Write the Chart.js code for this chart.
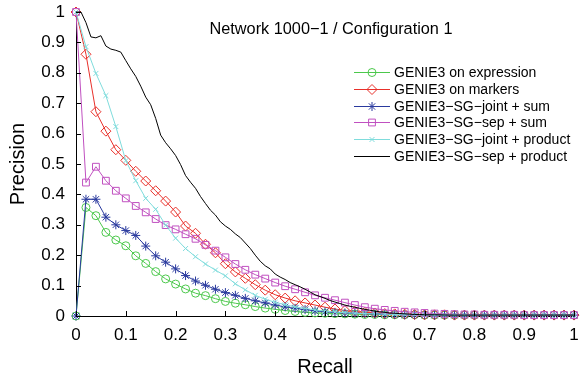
<!DOCTYPE html>
<html>
<head>
<meta charset="utf-8">
<script src="https://cdn.jsdelivr.net/npm/chart.js"></script>
<style>
  html, body { margin: 0; padding: 0; background: #fff; }
  #wrap { width: 580px; height: 379px; position: relative; }
</style>
</head>
<body>
<div id="wrap"><canvas id="c" width="580" height="379"></canvas></div>
<script>
// ---------- DATA ----------
const chartTitle = "Network 1000\u22121 / Configuration 1";
const xAxisTitle = "Recall";
const yAxisTitle = "Precision";

const xTicks = [0, 0.1, 0.2, 0.3, 0.4, 0.5, 0.6, 0.7, 0.8, 0.9, 1];
const xTickLabels = ["0", "0.1", "0.2", "0.3", "0.4", "0.5", "0.6", "0.7", "0.8", "0.9", "1"];
const yTicks = [0, 0.1, 0.2, 0.3, 0.4, 0.5, 0.6, 0.7, 0.8, 0.9, 1];
const yTickLabels = ["0", "0.1", "0.2", "0.3", "0.4", "0.5", "0.6", "0.7", "0.8", "0.9", "1"];

const seriesNames = [
  "GENIE3 on expression",
  "GENIE3 on markers",
  "GENIE3\u2212SG\u2212joint + sum",
  "GENIE3\u2212SG\u2212sep + sum",
  "GENIE3\u2212SG\u2212joint + product",
  "GENIE3\u2212SG\u2212sep + product"
];

// recall grid for marker series (every 0.02)
const recall = [0,0.02,0.04,0.06,0.08,0.1,0.12,0.14,0.16,0.18,0.2,0.22,0.24,0.26,0.28,0.3,0.32,0.34,0.36,0.38,
  0.4,0.42,0.44,0.46,0.48,0.5,0.52,0.54,0.56,0.58,0.6,0.62,0.64,0.66,0.68,0.7,0.72,0.74,0.76,0.78,
  0.8,0.82,0.84,0.86,0.88,0.9,0.92,0.94,0.96,0.98,1];

const expression = [0,0.357,0.33,0.275,0.25,0.231,0.198,0.173,0.146,0.122,0.105,0.089,0.075,0.067,0.057,0.048,0.042,0.037,0.031,0.026,
  0.022,0.018,0.015,0.012,0.010,0.009,0.008,0.007,0.006,0.005,0.005,0.004,0.004,0.004,0.004,0.003,0.003,0.003,0.003,0.003,
  0.003,0.003,0.003,0.003,0.003,0.003,0.003,0.003,0.003,0.003,0.003];

const markers = [1,0.861,0.672,0.608,0.547,0.512,0.476,0.444,0.412,0.378,0.342,0.296,0.272,0.236,0.208,0.172,0.145,0.124,0.103,0.085,
  0.07,0.059,0.05,0.043,0.036,0.029,0.023,0.018,0.015,0.012,0.010,0.008,0.007,0.006,0.005,0.004,0.004,0.004,0.003,0.003,
  0.003,0.003,0.003,0.003,0.003,0.003,0.003,0.003,0.003,0.003,0.003];

const jointSum = [0,0.384,0.384,0.325,0.30,0.281,0.265,0.23,0.198,0.177,0.155,0.133,0.115,0.101,0.088,0.077,0.068,0.058,0.05,0.043,
  0.036,0.030,0.025,0.021,0.017,0.014,0.012,0.010,0.009,0.008,0.007,0.006,0.005,0.004,0.004,0.004,0.003,0.003,0.003,0.003,
  0.003,0.003,0.003,0.003,0.003,0.003,0.003,0.003,0.003,0.003,0.003];

const sepSum = [1,0.439,0.491,0.445,0.412,0.387,0.362,0.341,0.319,0.299,0.285,0.269,0.254,0.234,0.215,0.193,0.171,0.152,0.136,0.123,
  0.11,0.098,0.088,0.078,0.068,0.06,0.052,0.044,0.036,0.029,0.024,0.020,0.017,0.014,0.012,0.010,0.008,0.007,0.006,0.005,
  0.005,0.004,0.004,0.004,0.004,0.003,0.003,0.003,0.003,0.003,0.003];

const jointProduct = [1,0.886,0.798,0.725,0.623,0.511,0.445,0.387,0.351,0.299,0.256,0.222,0.195,0.171,0.151,0.132,0.106,0.086,0.068,0.055,
  0.045,0.037,0.030,0.025,0.020,0.016,0.013,0.011,0.009,0.008,0.007,0.006,0.005,0.004,0.004,0.004,0.003,0.003,0.003,0.003,
  0.003,0.003,0.003,0.003,0.003,0.003,0.003,0.003,0.003,0.003,0.003];

// finer recall grid for the line-only series (every 0.01)
const recallFine = [0,0.01,0.02,0.03,0.04,0.05,0.06,0.07,0.08,0.09,0.1,0.11,0.12,0.13,0.14,0.15,0.16,0.17,0.18,0.19,
  0.2,0.21,0.22,0.23,0.24,0.25,0.26,0.27,0.28,0.29,0.3,0.31,0.32,0.33,0.34,0.35,0.36,0.37,0.38,0.39,
  0.4,0.41,0.42,0.43,0.44,0.45,0.46,0.47,0.48,0.49,0.5,0.51,0.52,0.53,0.54,0.55,0.56,0.57,0.58,0.59,
  0.6,0.61,0.62,0.63,0.64,0.65,0.66,0.67,0.68,0.69,0.7,0.72,0.75,0.8,0.85,0.9,0.95,1];

const sepProduct = [1,1,0.965,0.918,0.915,0.922,0.888,0.878,0.874,0.868,0.84,0.813,0.788,0.756,0.72,0.695,0.65,0.595,0.57,0.55,
  0.528,0.498,0.462,0.44,0.42,0.393,0.37,0.348,0.332,0.31,0.296,0.285,0.27,0.258,0.24,0.222,0.2,0.18,0.165,0.155,
  0.138,0.128,0.12,0.11,0.103,0.096,0.088,0.079,0.07,0.064,0.058,0.051,0.046,0.041,0.036,0.032,0.029,0.025,0.022,0.019,
  0.016,0.014,0.012,0.010,0.009,0.008,0.007,0.006,0.005,0.005,0.004,0.004,0.003,0.003,0.003,0.003,0.003,0.003];

// ---------- STYLE ----------
const FONT = "'Liberation Sans', Arial, Helvetica, sans-serif";
const colors = ["#4cc84c", "#e8302a", "#2a3a9e", "#c050c0", "#7fdcdc", "#000000"];
const styles = ["circle", "rectRot", "star", "rect", "crossRot", false];
const radii = [4, 5, 4.5, 4.8, 3.5, 0];

const ys = [expression, markers, jointSum, sepSum, jointProduct, sepProduct];
const xs = [recall, recall, recall, recall, recall, recallFine];

const datasets = ys.map((arr, i) => ({
  label: seriesNames[i],
  data: arr.map((v, k) => ({ x: xs[i][k], y: v })),
  borderColor: colors[i],
  backgroundColor: colors[i],
  pointBackgroundColor: 'rgba(0,0,0,0)',
  pointBorderColor: colors[i],
  pointBorderWidth: 1,
  pointStyle: styles[i],
  pointRadius: radii[i],
  borderWidth: 1,
  tension: 0,
  clip: false,
  order: 6 - i
}));

// ---------- PLUGINS ----------
const inwardTicks = {
  id: 'inwardTicks',
  afterDatasetsDraw(chart) {
    const { ctx, chartArea: { left, bottom }, scales: { x, y } } = chart;
    ctx.save();
    ctx.strokeStyle = '#000';
    ctx.lineWidth = 1;
    ctx.beginPath();
    x.ticks.forEach(t => {
      const px = Math.round(x.getPixelForValue(t.value)) + 0.5;
      ctx.moveTo(px, bottom); ctx.lineTo(px, bottom - 5);
    });
    y.ticks.forEach(t => {
      const py = Math.round(y.getPixelForValue(t.value)) + 0.5;
      ctx.moveTo(left, py); ctx.lineTo(left + 5, py);
    });
    ctx.stroke();
    ctx.restore();
  }
};

const legendAndTitle = {
  id: 'legendAndTitle',
  afterDraw(chart) {
    const { ctx } = chart;
    ctx.save();
    ctx.fillStyle = '#000';
    ctx.font = "16.3px " + FONT;
    ctx.textAlign = 'center';
    ctx.textBaseline = 'alphabetic';
    ctx.fillText(chartTitle, 331, 34);

    const x0 = 354, x1 = 390, tx = 394, y0 = 72, dy = 16.8;
    ctx.font = "14px " + FONT;
    ctx.textAlign = 'left';
    ctx.textBaseline = 'middle';
    seriesNames.forEach((name, i) => {
      const yy = Math.round(y0 + i * dy) + 0.5;
      ctx.strokeStyle = colors[i];
      ctx.lineWidth = 1;
      ctx.beginPath();
      ctx.moveTo(x0, yy); ctx.lineTo(x1, yy);
      ctx.stroke();
      if (styles[i]) {
        ctx.strokeStyle = colors[i];
        ctx.fillStyle = 'rgba(0,0,0,0)';
        ctx.lineWidth = 1;
        Chart.helpers.drawPoint(ctx, { pointStyle: styles[i], rotation: 0, borderWidth: 1, radius: radii[i] }, (x0 + x1) / 2, yy);
      }
      ctx.fillStyle = '#000';
      ctx.fillText(name, tx, yy + 0.5);
    });
    ctx.restore();
  }
};

// ---------- CHART ----------
new Chart(document.getElementById('c'), {
  type: 'line',
  data: { datasets },
  options: {
    responsive: false,
    animation: false,
    events: [],
    layout: { padding: { top: 12, right: 5, left: 0, bottom: 0 } },
    plugins: { legend: { display: false }, title: { display: false }, tooltip: { enabled: false } },
    scales: {
      x: {
        type: 'linear', min: 0, max: 1,
        afterFit(s) { s.height = 63; s.paddingLeft = 0; s.paddingRight = 0; },
        afterBuildTicks(s) { s.ticks = xTicks.map(v => ({ value: v })); },
        grid: { display: true, drawOnChartArea: false, drawTicks: false },
        border: { display: true, color: '#000', width: 1 },
        ticks: {
          color: '#000', padding: 9, maxRotation: 0, autoSkip: false,
          font: { family: FONT, size: 17 },
          callback: (v, i) => xTickLabels[i]
        },
        title: { display: true, text: xAxisTitle, color: '#000', font: { family: FONT, size: 20 }, padding: { top: 0, bottom: 0 } }
      },
      y: {
        type: 'linear', min: 0, max: 1,
        afterFit(s) { s.width = 76; s.paddingTop = 0; s.paddingBottom = 0; },
        afterBuildTicks(s) { s.ticks = yTicks.map(v => ({ value: v })); },
        grid: { display: true, drawOnChartArea: false, drawTicks: false },
        border: { display: true, color: '#000', width: 1 },
        ticks: {
          color: '#000', padding: 11, autoSkip: false,
          font: { family: FONT, size: 17 },
          callback: (v, i) => yTickLabels[i]
        },
        title: { display: true, text: yAxisTitle, color: '#000', font: { family: FONT, size: 20 }, padding: { top: 6, bottom: 0 } }
      }
    }
  },
  plugins: [inwardTicks, legendAndTitle]
});
</script>
</body>
</html>
